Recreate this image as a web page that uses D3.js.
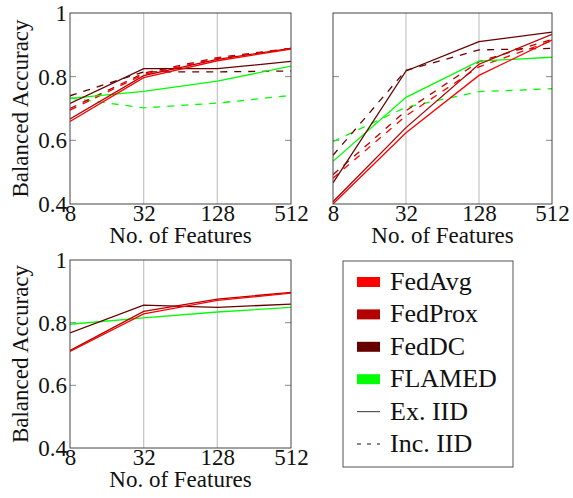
<!DOCTYPE html>
<html>
<head>
<meta charset="utf-8">
<script src="https://cdn.jsdelivr.net/npm/d3@7"></script>
<style>
  body { margin: 0; background: #fff; }
</style>
</head>
<body>
<svg width="573" height="498"></svg>
<script>
// x values and tick labels
var features = [8, 32, 128, 512]
var yTicks = [0.4, 0.6, 0.8, 1]
var yTickLabels = ['0.4', '0.6', '0.8', '1']
var methods = ['FedAvg', 'FedProx', 'FedDC', 'FLAMED']

// top left panel, one row per method (FedAvg, FedProx, FedDC, FLAMED)
var leftEx = [
	[0.659, 0.797, 0.850, 0.887],
	[0.667, 0.803, 0.854, 0.889],
	[0.716, 0.825, 0.825, 0.848],
	[0.732, 0.754, 0.786, 0.833]
]
var leftInc = [
	[0.695, 0.807, 0.857, 0.888],
	[0.700, 0.811, 0.860, 0.889],
	[0.740, 0.815, 0.815, 0.818],
	[0.733, 0.702, 0.717, 0.741]
]

// top right panel
var rightEx = [
	[0.400, 0.624, 0.804, 0.915],
	[0.407, 0.640, 0.839, 0.933],
	[0.466, 0.818, 0.910, 0.940],
	[0.534, 0.735, 0.849, 0.861]
]
var rightInc = [
	[0.481, 0.677, 0.831, 0.913],
	[0.492, 0.693, 0.847, 0.917],
	[0.553, 0.820, 0.884, 0.889],
	[0.596, 0.704, 0.753, 0.762]
]

// bottom panel, only Ex. IID
var bottomEx = [
	[0.708, 0.828, 0.871, 0.894],
	[0.711, 0.836, 0.875, 0.897],
	[0.767, 0.856, 0.849, 0.859],
	[0.795, 0.815, 0.834, 0.849]
]

var colors = {FedAvg: '#ff0000', FedProx: '#b30000', FedDC: '#660000', FLAMED: '#00ff00'}
var serif = '"Liberation Serif", "Times New Roman", serif'

var svg = d3.select('svg').style('font-family', serif)

function drawPanel(box, ex, inc, showY) {
	var x = d3.scaleLog().base(2).domain([8, 512]).range([box.left, box.right])
	var y = d3.scaleLinear().domain([0.4, 1]).range([box.bottom, box.top])
	var g = svg.append('g')
	var id = 'clip' + box.left + '_' + box.top

	g.append('clipPath').attr('id', id)
		.append('rect')
			.attr('x', box.left).attr('y', box.top)
			.attr('width', box.right - box.left).attr('height', box.bottom - box.top)

	// vertical grid
	g.selectAll('.grid').data([32, 128]).enter().append('line')
		.attr('x1', function(d) { return x(d) }).attr('x2', function(d) { return x(d) })
		.attr('y1', box.top).attr('y2', box.bottom)
		.attr('stroke', '#c4c4c4').attr('stroke-width', 1.2)

	// inner tick marks on both sides
	var mid = [0.6, 0.8]
	g.selectAll('.tl').data(mid).enter().append('line')
		.attr('x1', box.left).attr('x2', box.left + 6)
		.attr('y1', function(d) { return y(d) }).attr('y2', function(d) { return y(d) })
		.attr('stroke', '#888').attr('stroke-width', 1)
	g.selectAll('.tr').data(mid).enter().append('line')
		.attr('x1', box.right - 6).attr('x2', box.right)
		.attr('y1', function(d) { return y(d) }).attr('y2', function(d) { return y(d) })
		.attr('stroke', '#888').attr('stroke-width', 1)

	var line = d3.line()
		.x(function(d, i) { return x(features[i]) })
		.y(function(d) { return y(d) })

	var lines = g.append('g').attr('clip-path', 'url(#' + id + ')')
	// draw FLAMED first, then dark to light reds
	var order = [3, 2, 1, 0]
	function addSeries(data, dashed) {
		order.forEach(function(k) {
			lines.append('path')
				.attr('d', line(data[k]))
				.attr('fill', 'none')
				.attr('stroke', colors[methods[k]])
				.attr('stroke-width', 1.3)
				.attr('stroke-dasharray', dashed ? '7,7' : null)
		})
	}
	if (inc) addSeries(inc, true)
	addSeries(ex, false)

	// frame
	g.append('rect')
		.attr('x', box.left).attr('y', box.top)
		.attr('width', box.right - box.left).attr('height', box.bottom - box.top)
		.attr('fill', 'none').attr('stroke', '#444').attr('stroke-width', 1)

	// axes (labels only)
	var xAxis = g.append('g')
		.attr('transform', 'translate(0,' + box.bottom + ')')
		.call(d3.axisBottom(x).tickValues(features).tickFormat(d3.format('d')).tickSize(0).tickPadding(1))
	xAxis.select('.domain').remove()
	xAxis.attr('font-family', null)
	xAxis.selectAll('text').style('font-size', '23px').attr('fill', '#111')

	g.append('text')
		.attr('x', (box.left + box.right) / 2).attr('y', box.bottom + 39)
		.attr('text-anchor', 'middle').style('font-size', '23px').attr('fill', '#111')
		.text('No. of Features')

	if (showY) {
		var yAxis = g.append('g')
			.attr('transform', 'translate(' + box.left + ',0)')
			.call(d3.axisLeft(y).tickValues(yTicks)
				.tickFormat(function(d, i) { return yTickLabels[i] }).tickSize(0).tickPadding(3))
		yAxis.select('.domain').remove()
		yAxis.attr('font-family', null)
		yAxis.selectAll('text').style('font-size', '23px').attr('fill', '#111')

		g.append('text')
			.attr('transform', 'translate(28,' + (box.top + box.bottom) / 2 + ') rotate(-90)')
			.attr('text-anchor', 'middle').style('font-size', '23px').attr('fill', '#111')
			.text('Balanced Accuracy')
	}
}

drawPanel({left: 70, right: 291, top: 13, bottom: 204}, leftEx, leftInc, true)
drawPanel({left: 333, right: 552, top: 13, bottom: 204}, rightEx, rightInc, false)
drawPanel({left: 70, right: 291, top: 260, bottom: 448}, bottomEx, null, true)

// legend
var legendItems = methods.concat(['Ex. IID', 'Inc. IID'])
var leg = svg.append('g')
leg.append('rect')
	.attr('x', 343).attr('y', 261).attr('width', 170).attr('height', 206)
	.attr('fill', '#fff').attr('stroke', '#555').attr('stroke-width', 1)

var rowY = d3.scalePoint().domain(legendItems).range([290, 452])
legendItems.forEach(function(name, i) {
	var by = rowY(name)
	if (i < 4) {
		leg.append('rect')
			.attr('x', 357).attr('y', by - 13).attr('width', 23).attr('height', 10)
			.attr('fill', colors[name])
	} else {
		leg.append('line')
			.attr('x1', 357).attr('x2', 380).attr('y1', by - 8).attr('y2', by - 8)
			.attr('stroke', i == 4 ? '#555' : '#111').attr('stroke-width', 1.2)
			.attr('stroke-dasharray', i == 5 ? '4,6' : null)
	}
	leg.append('text')
		.attr('x', 390).attr('y', by)
		.style('font-size', '26px').attr('fill', '#111')
		.text(name)
})
</script>
</body>
</html>
